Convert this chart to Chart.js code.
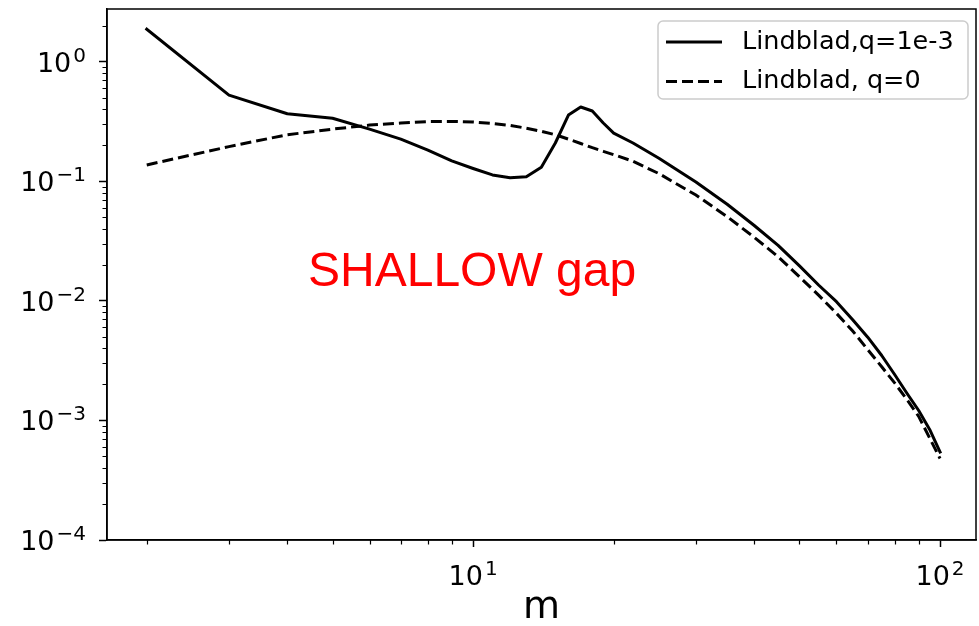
<!DOCTYPE html>
<html>
<head>
<meta charset="utf-8">
<script src="https://cdn.jsdelivr.net/npm/chart.js@4.4.0/dist/chart.umd.min.js"></script>
<style>
  html, body { margin:0; padding:0; background:#fff; }
  #wrap { width:979px; height:626px; position:relative; }
</style>
</head>
<body>
<div id="wrap"><canvas id="c"></canvas></div>
<script>
// azimuthal number m
const mValues = [2,3,4,5,6,7,8,9,10,11,12,13,14,15,16,17,18,19,20,22,25,30,35,40,45,50,55,60,65,70,75,80,85,90,95,100];
// Lindblad, q=1e-3 (solid)
const lindbladQ3 = [1.87,0.526,0.367,0.337,0.273,0.225,0.182,0.148,0.128,0.113,0.107,0.109,0.131,0.209,0.358,0.418,0.387,0.307,0.253,0.209,0.156,0.0985,0.0642,0.0427,0.0291,0.0196,0.0135,0.00984,0.00696,0.00497,0.00349,0.00241,0.00168,0.00121,0.00084,0.000545];
// Lindblad, q=0 (dashed)
const lindbladQ0 = [0.137,0.195,0.245,0.273,0.295,0.307,0.316,0.317,0.313,0.304,0.293,0.278,0.262,0.245,0.225,0.207,0.191,0.178,0.167,0.147,0.116,0.0767,0.0506,0.034,0.0234,0.0159,0.0111,0.00786,0.0056,0.00391,0.00281,0.00205,0.00149,0.00108,0.000713,0.00048];
const seriesLabels = ['Lindblad,q=1e-3', 'Lindblad, q=0'];
const xTicks = [10, 100];
const yTicks = [1e-4, 1e-3, 1e-2, 1e-1, 1];
const xMinor = [2,3,4,5,6,7,8,9,20,30,40,50,60,70,80,90];
const yMinor = [];
[1e-4,1e-3,1e-2,1e-1,1].forEach(d => { for (let j = 2; j <= 9; j++) yMinor.push(j*d); });
const xTitle = 'm';
const noteText = 'SHALLOW gap';

const FONT = 'DejaVu Sans';
const expOf = v => String(Math.round(Math.log10(v))).replace('-', '\u2212');

// "10" with a raised exponent, like matplotlib's mathtext
function drawPow(ctx, v, x, baseline, align) {
  const big = '27px "' + FONT + '"', small = '20px "' + FONT + '"';
  const e = expOf(v);
  ctx.font = big; const w1 = ctx.measureText('10').width;
  ctx.font = small; const w2 = ctx.measureText(e).width;
  const tot = w1 + w2 + 2;
  let x0 = align === 'right' ? x - tot : x - tot / 2;
  ctx.textAlign = 'left';
  ctx.textBaseline = 'alphabetic';
  ctx.font = big; ctx.fillText('10', x0, baseline);
  ctx.font = small; ctx.fillText(e, x0 + w1 + 2, baseline - 10);
}

const framePlugin = {
  id: 'frame',
  afterDraw(chart) {
    const ctx = chart.ctx, a = chart.chartArea;
    const xs = chart.scales.x, ys = chart.scales.y;
    ctx.save();
    ctx.strokeStyle = '#000';
    ctx.lineWidth = 1.5;
    ctx.strokeRect(a.left, a.top, a.right - a.left, a.bottom - a.top);
    // minor ticks
    ctx.lineWidth = 1.2;
    ctx.beginPath();
    xMinor.forEach(v => {
      if (v < xs.min || v > xs.max) return;
      const px = Math.round(xs.getPixelForValue(v)) + 0.5;
      ctx.moveTo(px, a.bottom); ctx.lineTo(px, a.bottom + 4.5);
    });
    yMinor.forEach(v => {
      if (v < ys.min || v > ys.max) return;
      const py = Math.round(ys.getPixelForValue(v)) + 0.5;
      ctx.moveTo(a.left, py); ctx.lineTo(a.left - 4.5, py);
    });
    ctx.stroke();

    // tick labels
    ctx.fillStyle = '#000';
    xTicks.forEach(v => drawPow(ctx, v, xs.getPixelForValue(v), a.bottom + 45, 'center'));
    yTicks.forEach(v => drawPow(ctx, v, a.left - 21, ys.getPixelForValue(v) + 10, 'right'));

    // axis title
    ctx.font = '38px "' + FONT + '"';
    ctx.textAlign = 'center';
    ctx.textBaseline = 'alphabetic';
    ctx.fillText(xTitle, (a.left + a.right) / 2, a.bottom + 78);

    // annotation
    ctx.fillStyle = '#ff0000';
    ctx.font = '48px "Liberation Sans", Arial, sans-serif';
    ctx.textAlign = 'left';
    ctx.fillText(noteText, xs.getPixelForValue(4.43), ys.getPixelForValue(0.0132));

    // legend
    const bx = a.right - 318, by = a.top + 12, bw = 310, bh = 78;
    ctx.fillStyle = 'rgba(255,255,255,0.8)';
    ctx.strokeStyle = '#cccccc';
    ctx.lineWidth = 1.5;
    ctx.beginPath();
    ctx.roundRect(bx, by, bw, bh, 5);
    ctx.fill(); ctx.stroke();
    ctx.font = '25.5px "' + FONT + '"';
    ctx.textBaseline = 'middle';
    chart.data.datasets.forEach((ds, i) => {
      const ly = by + 21 + i * 39.5;
      ctx.strokeStyle = ds.borderColor;
      ctx.lineWidth = ds.borderWidth;
      ctx.setLineDash(ds.borderDash || []);
      ctx.beginPath();
      ctx.moveTo(bx + 8, ly); ctx.lineTo(bx + 64, ly);
      ctx.stroke();
      ctx.setLineDash([]);
      ctx.fillStyle = '#000';
      ctx.fillText(ds.label, bx + 84, ly);
    });
    ctx.restore();
  }
};

new Chart(document.getElementById('c'), {
  type: 'line',
  data: {
    datasets: [
      { label: seriesLabels[0], data: mValues.map((m, i) => ({x: m, y: lindbladQ3[i]})),
        borderColor: '#000', borderWidth: 3, pointRadius: 0, tension: 0, borderJoinStyle: 'round', borderCapStyle: 'square' },
      { label: seriesLabels[1], data: mValues.map((m, i) => ({x: m, y: lindbladQ0[i]})),
        borderColor: '#000', borderWidth: 3, borderDash: [11, 5], pointRadius: 0, tension: 0 }
    ]
  },
  options: {
    responsive: true, maintainAspectRatio: false, animation: false,
    layout: { padding: { top: 9, right: 3, left: 0, bottom: 0 } },
    plugins: { legend: { display: false }, tooltip: { enabled: false } },
    scales: {
      x: {
        type: 'logarithmic', min: 1.644, max: 119.4,
        afterBuildTicks: s => { s.ticks = xTicks.map(v => ({value: v})); },
        afterFit: s => { s.height = 86; s.paddingLeft = 0; s.paddingRight = 0; },
        ticks: { callback: () => '', autoSkip: false, maxRotation: 0 },
        grid: { drawOnChartArea: false, tickLength: 7, tickWidth: 1.5, tickColor: '#000' },
        border: { color: '#000', width: 1.5 }
      },
      y: {
        type: 'logarithmic', min: 1e-4, max: 2.76,
        afterBuildTicks: s => { s.ticks = yTicks.map(v => ({value: v})); },
        afterFit: s => { s.width = 107; s.paddingTop = 0; s.paddingBottom = 0; },
        ticks: { callback: () => '', autoSkip: false },
        grid: { drawOnChartArea: false, tickLength: 8, tickWidth: 1.5, tickColor: '#000' },
        border: { color: '#000', width: 1.5 }
      }
    }
  },
  plugins: [framePlugin]
});
</script>
</body>
</html>
